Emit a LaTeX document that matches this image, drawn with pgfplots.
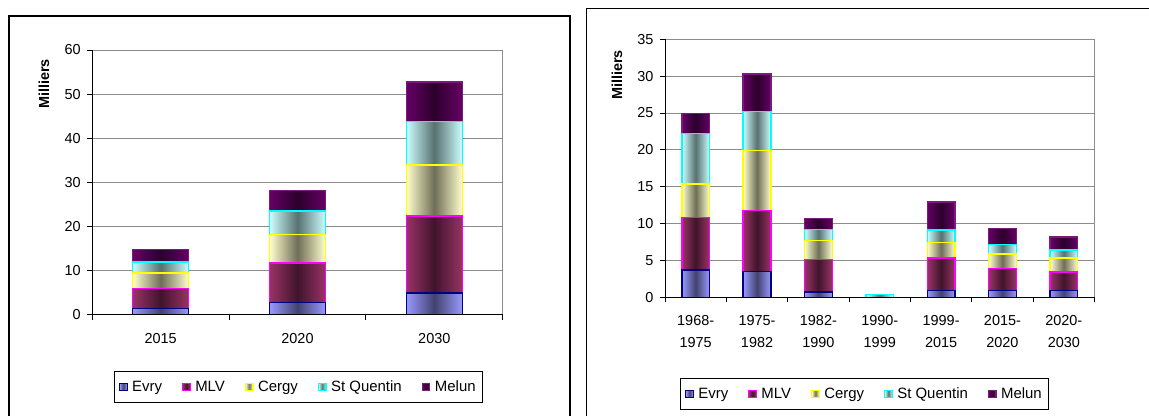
\documentclass[border=0pt]{standalone}
\usepackage{pgfplots}
\usepackage{pgfplotstable}
\pgfplotsset{compat=1.18}
\usepackage{fontspec}
\setmainfont{Liberation Sans}

\definecolor{evryL}{HTML}{9999FF}\definecolor{evryD}{HTML}{42426F}\definecolor{evryB}{HTML}{000080}
\definecolor{mlvL}{HTML}{993366}\definecolor{mlvD}{HTML}{40142B}\definecolor{mlvB}{HTML}{FF00FF}
\definecolor{cerL}{HTML}{FFFFCC}\definecolor{cerD}{HTML}{6E6E58}\definecolor{cerB}{HTML}{FFFF00}
\definecolor{stqL}{HTML}{CCFFFF}\definecolor{stqD}{HTML}{587070}\definecolor{stqB}{HTML}{00FFFF}
\definecolor{melL}{HTML}{660066}\definecolor{melD}{HTML}{2B002B}\definecolor{melB}{HTML}{7A1A7A}
\definecolor{gridgray}{HTML}{8C8C8C}

% projections (milliers)
\pgfplotstableread{
x Evry MLV Cergy StQ Melun
0 1.5 4.5 3.5 2.5 2.8
1 2.8 9.0 6.4 5.4 4.6
2 5.0 17.4 11.6 9.8 8.9
}\projdata

% by period
\pgfplotstableread{
x Evry MLV Cergy StQ Melun
0 3.7 7.1 4.6 6.85 2.7
1 3.5 8.3 8.1 5.3 5.1
2 0.7 4.4 2.6 1.5 1.5
3 0 0 0 0.35 0
4 0.9 4.4 2.15 1.7 3.75
5 0.9 3.0 2.0 1.25 2.15
6 0.9 2.55 1.9 1.1 1.7
}\perdata

\newcommand\lbl{\fontsize{14.5}{21.7}\selectfont}

\pgfplotsset{
  evry/.style={draw=evryB, left color=evryL, right color=evryL, middle color=evryD, line width=1.5bp},
  mlv/.style={draw=mlvB, left color=mlvL, right color=mlvL, middle color=mlvD, line width=1.5bp},
  cergy/.style={draw=cerB, left color=cerL, right color=cerL, middle color=cerD, line width=1.5bp},
  stq/.style={draw=stqB, left color=stqL, right color=stqL, middle color=stqD, line width=1.5bp},
  melun/.style={draw=melB, left color=melL, right color=melL, middle color=melD, line width=1.5bp},
  chart/.style={
    scale only axis,
    ybar stacked, stacked ignores zero,
    font=\lbl,
    /pgf/number format/assume math mode=true,
    tick label style={font=\lbl},
    axis line style={draw=gridgray, line width=1bp},
    ymajorgrids, grid style={draw=gridgray, line width=1bp},
    tick align=outside, tick pos=left,
    major tick length=5bp,
    tick style={black, line width=1bp},
    xticklabels={},
    extra x tick style={major tick length=0pt},
    xticklabel style={align=center, yshift=-15bp},
    yticklabel style={xshift=-3bp},
    legend columns=5,
    legend image code/.code={\draw[##1,/tikz/.cd,line width=1.2bp] (0bp,-4bp) rectangle (7.5bp,3.5bp);},
    legend style={anchor=north, draw=black, line width=1bp,
      font=\fontsize{15}{18}\selectfont, inner xsep=5bp, inner ysep=7.5bp,
      /tikz/every odd column/.append style={column sep=2.5bp},
      /tikz/every even column/.append style={column sep=18bp}},
    after end axis/.code={\draw[black, line width=1bp] (rel axis cs:0,1) -- (rel axis cs:0,0) -- (rel axis cs:1,0);},
  },
  leftgeom/.style={chart, at={(92.3bp,101bp)}, anchor=south west,
    width=410.4bp, height=265bp,
    xmin=-0.5, xmax=2.5, ymin=0, ymax=60, bar width=56bp},
  rightgeom/.style={chart, at={(665bp,118.7bp)}, anchor=south west,
    width=429.5bp, height=258bp,
    xmin=-0.5, xmax=6.5, ymin=0, ymax=35, bar width=27.7bp},
}

% one stacked column (each bar its own path, so the shading is per bar)
\newcommand\column[2]{%
  \addplot[evry, restrict x to domain=#2:#2] table[x=x,y=Evry] {#1};
  \addplot[mlv, restrict x to domain=#2:#2] table[x=x,y=MLV] {#1};
  \addplot[cergy, restrict x to domain=#2:#2] table[x=x,y=Cergy] {#1};
  \addplot[stq, restrict x to domain=#2:#2] table[x=x,y=StQ] {#1};
  \addplot[melun, restrict x to domain=#2:#2] table[x=x,y=Melun] {#1};
}

\begin{document}
\begin{tikzpicture}
\useasboundingbox (0,0) rectangle (1149bp,416bp);
\draw[line width=1.5bp] (9bp,-10bp) -- (9bp,400bp) -- (570bp,400bp) -- (570bp,-10bp);
\draw[line width=1.5bp] (586.7bp,-10bp) -- (586.7bp,407.7bp) -- (1160bp,407.7bp);

% left chart
\begin{axis}[leftgeom,
  ytick={0,10,...,60},
  xtick={-0.5,0.5,1.5,2.5},
  extra x ticks={0,1,2},
  extra x tick labels={2015,2020,2030},
  ylabel={\bfseries Milliers},
  ylabel style={at={(axis description cs:-0.1177,0.872)}, anchor=center, font=\lbl},
  legend style={at={(0.502,-0.21)}},
]
\column{\projdata}{0}
\legend{Evry,MLV,Cergy,St Quentin,Melun}
\end{axis}
\pgfplotsinvokeforeach{1,2}{
\begin{axis}[leftgeom, hide axis]
\column{\projdata}{#1}
\end{axis}
}

% right chart
\begin{axis}[rightgeom,
  ytick={0,5,...,35},
  xtick={-0.5,0.5,...,6.5},
  extra x ticks={0,1,...,6},
  extra x tick labels={{1968-\\1975},{1975-\\1982},{1982-\\1990},{1990-\\1999},{1999-\\2015},{2015-\\2020},{2020-\\2030}},
  ylabel={\bfseries Milliers},
  ylabel style={at={(axis description cs:-0.1118,0.862)}, anchor=center, font=\lbl},
  legend style={at={(0.4645,-0.3116)}},
]
\column{\perdata}{0}
\legend{Evry,MLV,Cergy,St Quentin,Melun}
\end{axis}
\pgfplotsinvokeforeach{1,...,6}{
\begin{axis}[rightgeom, hide axis]
\column{\perdata}{#1}
\end{axis}
}
\end{tikzpicture}
\end{document}
